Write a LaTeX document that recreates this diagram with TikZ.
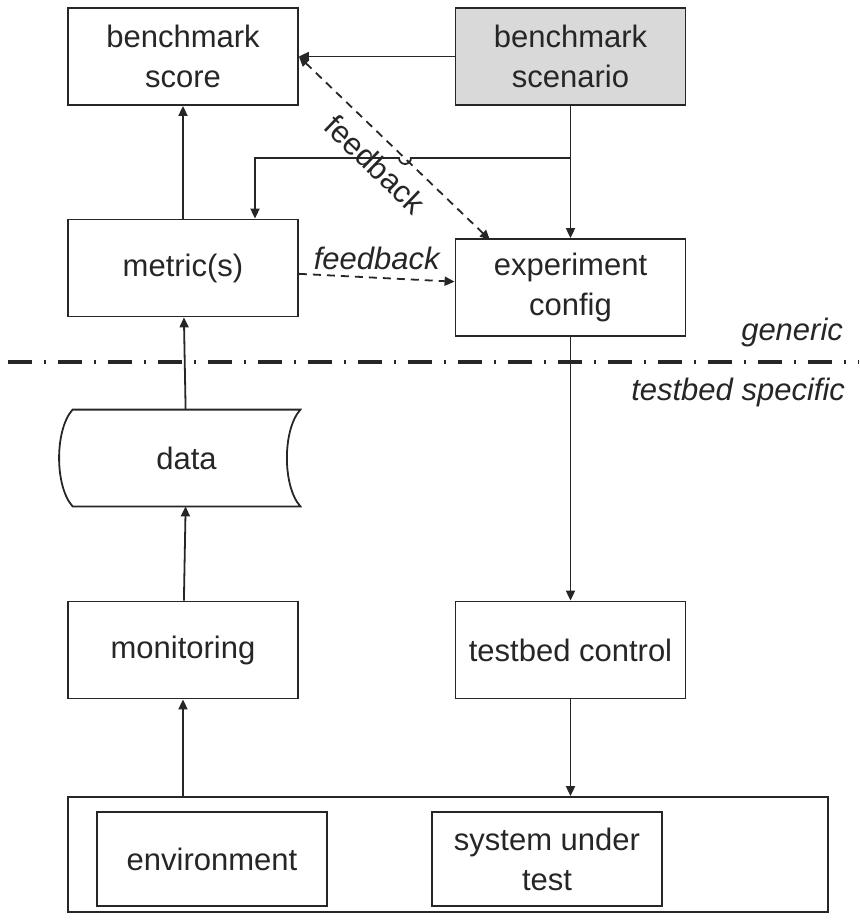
\documentclass[tikz,border=0pt]{standalone}
\usepackage{fontspec}
\setmainfont{Liberation Sans}
\usetikzlibrary{arrows.meta, calc, positioning}
\colorlet{ink}{black!85}
\tikzset{
  >={Triangle[length=5pt, width=4.5pt]},
  every picture/.style={line join=miter, font=\fontsize{15.5}{20}\selectfont},
  blk/.style={draw=ink, line width=0.9pt, minimum width=115pt, minimum height=48.5pt,
              align=center, inner sep=0pt, text=ink},
  flow/.style={->, draw=ink, line width=0.9pt},
  fb/.style={flow, dash pattern=on 4pt off 3pt},
}
\begin{document}
\begin{tikzpicture}[x=0.5pt, y=-0.5pt]
  \tikzset{sep/.style={line width=2.2pt, ink, dash pattern=on 12pt off 6pt on 1pt off 6pt},
           tag/.style={font=\fontsize{15.5}{20}\selectfont\itshape, text=ink}}
  \useasboundingbox (0,0) rectangle (859,922);
  % ---- generic part
  \node[blk] (score) at (183,56.5) {benchmark\\score};
  \node[blk, fill=black!15] (scenario) at (570.5,56.5) {benchmark\\scenario};
  \node[blk] (metric) at (183,268) {metric(s)};
  \node[blk] (config) at (570.5,287.5) {experiment\\config};
  % ---- separator
  \draw[sep] (8,362) -- (859,362);
  \node[tag, anchor=base east] (gen) at (850,340) {generic};
  \node[tag, anchor=base east] (spec) at (852,400) {testbed specific};
  % ---- testbed specific part
  \node[minimum width=113.5pt, minimum height=48pt, text=ink] (data) at (186.5,458) {data};
  \draw[ink, line width=0.9pt] (data.north west) -- (data.north east)
    .. controls ($(data.north east)+(-18,20)$) and ($(data.south east)+(-18,-20)$) .. (data.south east)
    -- (data.south west)
    .. controls ($(data.south west)+(-18,-20)$) and ($(data.north west)+(-18,20)$) .. (data.north west) -- cycle;
  \node[blk] (monitor) at (183,650) {monitoring};
  \node[blk] (control) at (570.5,650) {testbed control};
  \node[blk, minimum width=380pt, minimum height=57.5pt] (bed) at (448,854.5) {};
  \node[blk, minimum height=47pt] (env) at (212,859) {environment};
  \node[blk, minimum height=47pt] (sut) at (547,859) {system under\\test};
  % ---- connectors
  \coordinate (split) at (570.5,158);
  \coordinate (drop) at (255,158);
  \coordinate (fbend) at (490,240);
  \draw[flow] (scenario) -- (score);
  \draw[flow] (scenario) -- (config);
  \draw[flow] (split) -- (411,158) arc[start angle=0, end angle=180, radius=6] -- (drop) -- (drop |- metric.north);
  \draw[flow] (metric) -- (score);
  \draw[fb, <->] (score.east) -- node[sloped, below=3pt, pos=0.49, text=ink] {feedback} (fbend);
  \draw[fb] (metric) -- node[above, tag] {feedback} (config);
  \draw[flow] (data) -- (metric);
  \draw[flow] (monitor) -- (data);
  \draw[flow] (bed.north -| monitor) -- (monitor);
  \draw[flow] (config) -- (control);
  \draw[flow] (control) -- (control |- bed.north);
\end{tikzpicture}
\end{document}
